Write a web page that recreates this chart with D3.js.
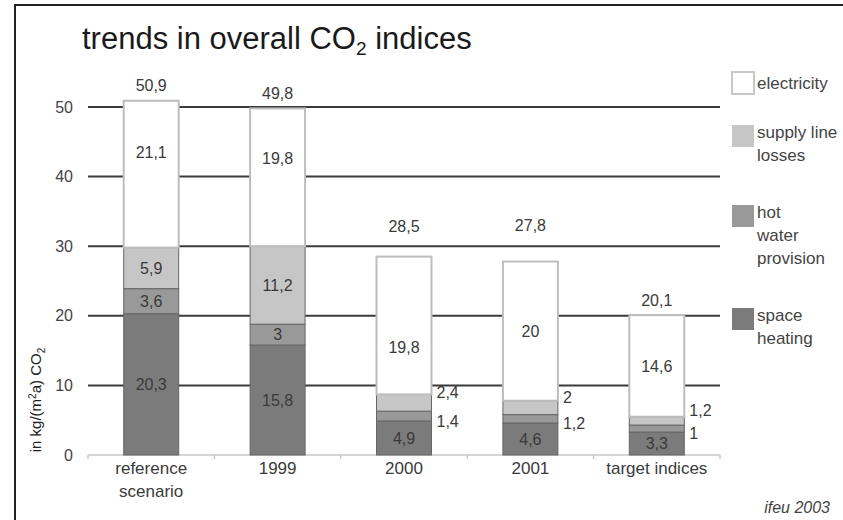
<!DOCTYPE html>
<html>
<head>
<meta charset="utf-8">
<script src="https://cdn.jsdelivr.net/npm/d3@7"></script>
<style>
  html, body { margin: 0; padding: 0; background: #fff; }
  svg { display: block; }
  text { font-family: "Liberation Sans", Arial, sans-serif; fill: #3a3a3a; }
</style>
</head>
<body>
<svg id="chart" width="843" height="520"></svg>
<script>
// ---- data ----
const categories = ["reference scenario", "1999", "2000", "2001", "target indices"];
const spaceHeating = [20.3, 15.8, 4.9, 4.6, 3.3];
const hotWater = [3.6, 3, 1.4, 1.2, 1];
const supplyLosses = [5.9, 11.2, 2.4, 2, 1.2];
const electricity = [21.1, 19.8, 19.8, 20, 14.6];
const totals = [50.9, 49.8, 28.5, 27.8, 20.1];
const yTicks = [0, 10, 20, 30, 40, 50];
const seriesNames = ["electricity", "supply line losses", "hot water provision", "space heating"];
const legendLines = [["electricity"], ["supply line", "losses"], ["hot", "water", "provision"], ["space", "heating"]];

// ---- layout / style ----
const colors = {
  "space heating": "#7b7b7b",
  "hot water provision": "#999999",
  "supply line losses": "#c6c6c6",
  "electricity": "#ffffff"
};
const stackOrder = ["space heating", "hot water provision", "supply line losses", "electricity"];
const totalLabelExtraLift = [0, 0, 15, 21, 0];
const elecLabelShift = [-22, -19, 22, 0, 0];
const legendTops = [72, 125, 205, 308];

const svg = d3.select("#chart");
const fmt = v => String(v).replace(".", ",");

// frame
svg.append("rect").attr("x", 15).attr("y", 5).attr("width", 900).attr("height", 600)
  .attr("fill", "none").attr("stroke", "#222").attr("stroke-width", 2);

// title
const title = svg.append("text").attr("x", 82).attr("y", 49)
  .style("font-size", "31px").style("fill", "#1a1a1a");
title.append("tspan").text("trends in overall CO");
title.append("tspan").attr("dy", 6).style("font-size", "19px").text("2");
title.append("tspan").attr("dy", -6).text(" indices");

const x = d3.scaleBand().domain(categories).range([88, 720]).paddingInner(0.565).paddingOuter(0.2825);
const y = d3.scaleLinear().domain([0, 50]).range([455, 107]);

// rows
const rows = categories.map((c, i) => ({
  category: c,
  "space heating": spaceHeating[i],
  "hot water provision": hotWater[i],
  "supply line losses": supplyLosses[i],
  "electricity": electricity[i],
  total: totals[i]
}));
const stacked = d3.stack().keys(stackOrder)(rows);

// gridlines
svg.append("g").selectAll("line").data(yTicks.filter(t => t > 0)).join("line")
  .attr("x1", 88).attr("x2", 720)
  .attr("y1", d => y(d)).attr("y2", d => y(d))
  .attr("stroke", "#3a3a3a").attr("stroke-width", 2);

// y axis labels
const yAxis = svg.append("g").attr("transform", "translate(88,0)")
  .call(d3.axisLeft(y).tickValues(yTicks).tickSize(0).tickPadding(15));
yAxis.select(".domain").remove();
yAxis.selectAll("text").style("font-size", "16px").style("fill", "#444")
  .style("font-family", "'Liberation Sans', Arial, sans-serif");

// baseline and category ticks
svg.append("line").attr("x1", 88).attr("x2", 720).attr("y1", y(0)).attr("y2", y(0))
  .attr("stroke", "#c8c8c8").attr("stroke-width", 1.5);
const step = x.step();
svg.append("g").selectAll("line").data(d3.range(categories.length + 1)).join("line")
  .attr("x1", d => 88 + d * step).attr("x2", d => 88 + d * step)
  .attr("y1", y(0)).attr("y2", y(0) + 4)
  .attr("stroke", "#c8c8c8").attr("stroke-width", 1.5);

// bars
stacked.forEach(layer => {
  const key = layer.key;
  svg.append("g").selectAll("rect").data(layer).join("rect")
    .attr("x", d => x(d.data.category))
    .attr("width", x.bandwidth())
    .attr("y", d => y(d[1]))
    .attr("height", d => y(d[0]) - y(d[1]))
    .attr("fill", colors[key])
    .attr("stroke", key === "electricity" ? "#bdbdbd" : "#666")
    .attr("stroke-width", key === "electricity" ? 2 : 1);
});

// segment labels
const lbl = svg.append("g").style("font-size", "16px");
stacked.forEach(layer => {
  const key = layer.key;
  layer.forEach((d, i) => {
    const v = d.data[key];
    const h = y(d[0]) - y(d[1]);
    const cx = x(d.data.category) + x.bandwidth() / 2;
    let cy = (y(d[0]) + y(d[1])) / 2;
    if (h >= 18) {
      if (key === "electricity") cy += elecLabelShift[i];
      lbl.append("text").attr("x", cx).attr("y", cy).attr("dy", "0.35em")
        .attr("text-anchor", "middle").text(fmt(v));
    } else {
      const off = key === "supply line losses" ? -10 : 5;
      lbl.append("text").attr("x", x(d.data.category) + x.bandwidth() + 5)
        .attr("y", cy + off).attr("dy", "0.35em")
        .attr("text-anchor", "start").text(fmt(v));
    }
  });
});

// totals
svg.append("g").selectAll("text").data(rows).join("text")
  .attr("x", d => x(d.category) + x.bandwidth() / 2)
  .attr("y", (d, i) => y(d.total) - 15 - totalLabelExtraLift[i])
  .attr("dy", "0.35em").attr("text-anchor", "middle")
  .style("font-size", "16px").text(d => fmt(d.total));

// category labels
const catG = svg.append("g").style("font-size", "17px").style("fill", "#444");
categories.forEach(c => {
  const parts = c === "reference scenario" ? ["reference", "scenario"] : [c];
  const t = catG.append("text").attr("x", x(c) + x.bandwidth() / 2).attr("y", 474)
    .attr("text-anchor", "middle");
  parts.forEach((p, k) => t.append("tspan").attr("x", x(c) + x.bandwidth() / 2)
    .attr("dy", k === 0 ? 0 : 23).text(p));
});

// y axis title
const yt = svg.append("text").attr("transform", "translate(41,400) rotate(-90)")
  .attr("text-anchor", "middle").style("font-size", "15px").style("fill", "#222");
yt.append("tspan").text("in kg/(m");
yt.append("tspan").attr("dy", -5).style("font-size", "10px").text("2");
yt.append("tspan").attr("dy", 5).text("a) CO");
yt.append("tspan").attr("dy", 4).style("font-size", "10px").text("2");

// legend
const leg = svg.append("g");
seriesNames.forEach((s, i) => {
  const top = legendTops[i];
  leg.append("rect").attr("x", 732).attr("y", top).attr("width", 22).attr("height", 22)
    .attr("fill", colors[s])
    .attr("stroke", s === "electricity" ? "#c8c8c8" : "none").attr("stroke-width", 2);
  const lines = legendLines[i];
  const firstY = lines.length === 1 ? top + 11 : top + 7;
  const t = leg.append("text").attr("x", 757).attr("y", firstY).attr("dy", "0.35em")
    .style("font-size", "17px").style("fill", "#444");
  lines.forEach((ln, k) => t.append("tspan").attr("x", 757).attr("dy", k === 0 ? "0.35em" : 23).text(ln));
});

// source
svg.append("text").attr("x", 830).attr("y", 513).attr("text-anchor", "end")
  .style("font-size", "16px").style("font-style", "italic").style("fill", "#444")
  .text("ifeu 2003");
</script>
</body>
</html>
